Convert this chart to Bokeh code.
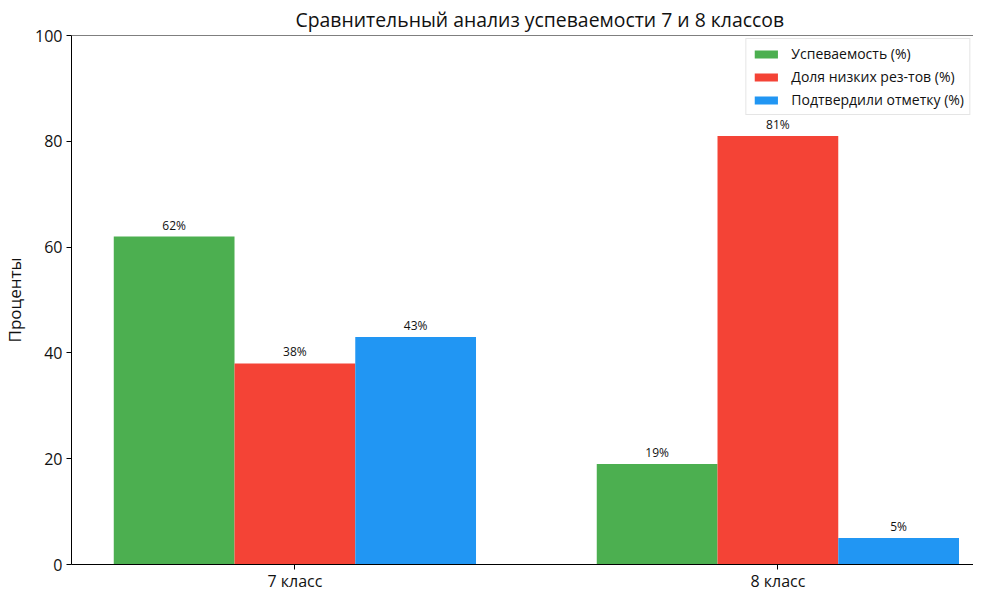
from bokeh.plotting import figure
from bokeh.models import Range1d, FixedTicker, Legend, LegendItem, Span, ColumnDataSource
from bokeh.core.properties import value
from bokeh.embed import file_html
from bokeh.resources import INLINE

categories = ["7 класс", "8 класс"]
series_names = ["Успеваемость (%)", "Доля низких рез-тов (%)", "Подтвердили отметку (%)"]
uspev = [62, 19]
low = [38, 81]
confirmed = [43, 5]
colors = ["#4CAF50", "#F44336", "#2196F3"]
title_text = "Сравнительный анализ успеваемости 7 и 8 классов"
y_label = "Проценты"
y_ticks = [0, 20, 40, 60, 80, 100]

FONT = "Open Sans"
bar_w = 0.25

p = figure(width=973, height=594, output_backend="svg", toolbar_location=None,
           x_range=Range1d(-0.4625, 1.405), y_range=Range1d(0, 100),
           min_border_left=71, min_border_right=0, min_border_top=35, min_border_bottom=20)
p.outline_line_color = None
p.xgrid.visible = False
p.ygrid.visible = False
p.background_fill_color = "white"
p.border_fill_color = "white"

p.title.text = title_text
p.title.align = "left"
p.title.offset = 224
p.title.text_font = FONT
p.title.text_font_size = "19.4px"
p.title.text_font_style = "normal"
p.title.text_color = "#111111"
p.title.standoff = 5

items = []
for k, (name, vals, col) in enumerate(zip(series_names, [uspev, low, confirmed], colors)):
    off = (k - 1) * bar_w
    xs = [i + off for i in range(len(categories))]
    src = ColumnDataSource(dict(x=xs, top=vals, lab=[f"{v}%" for v in vals]))
    r = p.vbar(x="x", top="top", width=bar_w, bottom=0, source=src, fill_color=col, line_color=None)
    p.text(x="x", y="top", text="lab", source=src, text_align="center", text_baseline="bottom",
           y_offset=-3, text_font=value(FONT), text_font_size="12px", text_color="#111111")
    items.append(LegendItem(label=name, renderers=[r]))

legend = Legend(items=items, location="top_right", margin=3)
legend.label_text_font = FONT
legend.label_text_font_size = "14px"
legend.label_text_color = "#111111"
legend.glyph_width = 29
legend.glyph_height = 10
legend.label_height = 17
legend.spacing = 4
legend.padding = 5
legend.label_standoff = 11
legend.border_line_color = "#cccccc"
legend.border_line_width = 1
legend.background_fill_alpha = 0.85
p.add_layout(legend)

p.add_layout(Span(location=100, dimension="width", line_color="black", line_width=1))

p.xaxis.ticker = FixedTicker(ticks=list(range(len(categories))))
p.xaxis.major_label_overrides = {i: c for i, c in enumerate(categories)}
p.yaxis.ticker = FixedTicker(ticks=y_ticks)
for ax in (p.xaxis[0], p.yaxis[0]):
    ax.major_label_text_font = FONT
    ax.major_label_text_font_size = "16px"
    ax.major_label_text_color = "#111111"
    ax.minor_tick_line_color = None
    ax.major_tick_in = 0
    ax.major_tick_out = 5
    ax.axis_line_color = "black"
    ax.major_tick_line_color = "black"
p.xaxis.major_label_standoff = 0
p.yaxis.major_label_standoff = 4
p.yaxis.axis_label = y_label
p.yaxis.axis_label_text_font = FONT
p.yaxis.axis_label_text_font_size = "17px"
p.yaxis.axis_label_text_font_style = "normal"
p.yaxis.axis_label_text_color = "#111111"
p.yaxis.axis_label_standoff = 6

open("out.html", "w").write(file_html(p, INLINE))
